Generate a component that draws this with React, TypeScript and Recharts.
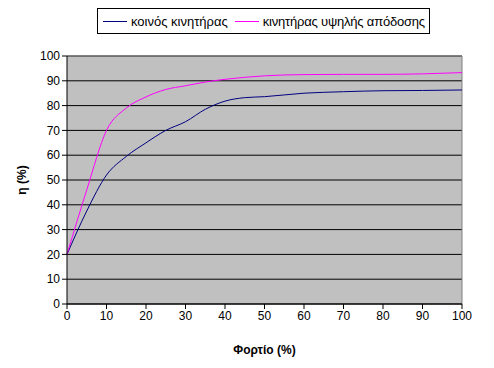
import { CartesianGrid, Line, LineChart, ReferenceLine, XAxis, YAxis } from "recharts";

// φορτίο (%) και βαθμός απόδοσης η (%)
const LOAD = [0, 5, 10, 15, 20, 25, 30, 35, 40, 45, 50, 60, 70, 80, 90, 100];
const STANDARD = [20, 37.5, 52, 59.5, 65, 70, 73.5, 78.5, 81.8, 83.2, 83.6, 85, 85.6, 86, 86.1, 86.3];
const HIGH_EFF = [20, 46, 70, 79, 83.5, 86.5, 88, 89.5, 90.6, 91.4, 92, 92.5, 92.6, 92.6, 92.8, 93.3];
const TICKS = [0, 10, 20, 30, 40, 50, 60, 70, 80, 90, 100];

const SERIES = [
  { key: "standard", name: "κοινός κινητήρας", color: "#000080" },
  { key: "high", name: "κινητήρας υψηλής απόδοσης", color: "#ff00ff" },
];

const data = LOAD.map((x, i) => ({ x, standard: STANDARD[i], high: HIGH_EFF[i] }));

const FONT = "'Liberation Sans', Arial, sans-serif";
const tick = { fill: "#000", fontSize: 12, fontFamily: FONT };
const axisLabel = { fontFamily: FONT, fontSize: 12, fontWeight: "bold", fill: "#000" };

function LegendBox() {
  return (
    <div
      style={{
        position: "absolute",
        top: 8,
        left: 97,
        zIndex: 2,
        display: "flex",
        alignItems: "center",
        border: "1px solid #000",
        background: "#fff",
        height: 24,
        padding: "0 4px 0 5px",
        fontFamily: FONT,
        fontSize: 13,
        color: "#000",
        whiteSpace: "nowrap",
      }}
    >
      {SERIES.map((s, i) => (
        <span key={s.key} style={{ display: "flex", alignItems: "center", marginLeft: i ? 7 : 0 }}>
          <span style={{ width: 24, height: 1, background: s.color, marginRight: 4 }} />
          <span style={{ letterSpacing: i ? -0.2 : 0 }}>{s.name}</span>
        </span>
      ))}
    </div>
  );
}

export default function App() {
  return (
    <div style={{ position: "absolute", left: 0, top: 0, width: 494, height: 368, background: "#fff" }}>
      <LegendBox />
      <LineChart width={494} height={368} data={data} margin={{ top: 56, right: 32, left: 0, bottom: 0 }}>
        <CartesianGrid fill="#c0c0c0" vertical={false} stroke="#000" />
        <ReferenceLine y={100} stroke="#808080" />
        <ReferenceLine x={100} stroke="#808080" />
        <XAxis
          dataKey="x"
          type="number"
          domain={[0, 100]}
          ticks={TICKS}
          tick={tick}
          tickSize={5}
          stroke="#000"
          height={64}
          label={{ value: "Φορτίο (%)", position: "insideBottom", offset: 14, style: axisLabel }}
        />
        <YAxis
          type="number"
          domain={[0, 100]}
          ticks={TICKS}
          tick={tick}
          tickSize={5}
          stroke="#000"
          width={67}
          label={{ value: "η (%)", angle: -90, position: "insideLeft", offset: 22, style: { ...axisLabel, textAnchor: "middle" } }}
        />
        {SERIES.map((s) => (
          <Line
            key={s.key}
            type="monotone"
            dataKey={s.key}
            name={s.name}
            stroke={s.color}
            strokeWidth={1}
            dot={false}
            isAnimationActive={false}
          />
        ))}
      </LineChart>
    </div>
  );
}
